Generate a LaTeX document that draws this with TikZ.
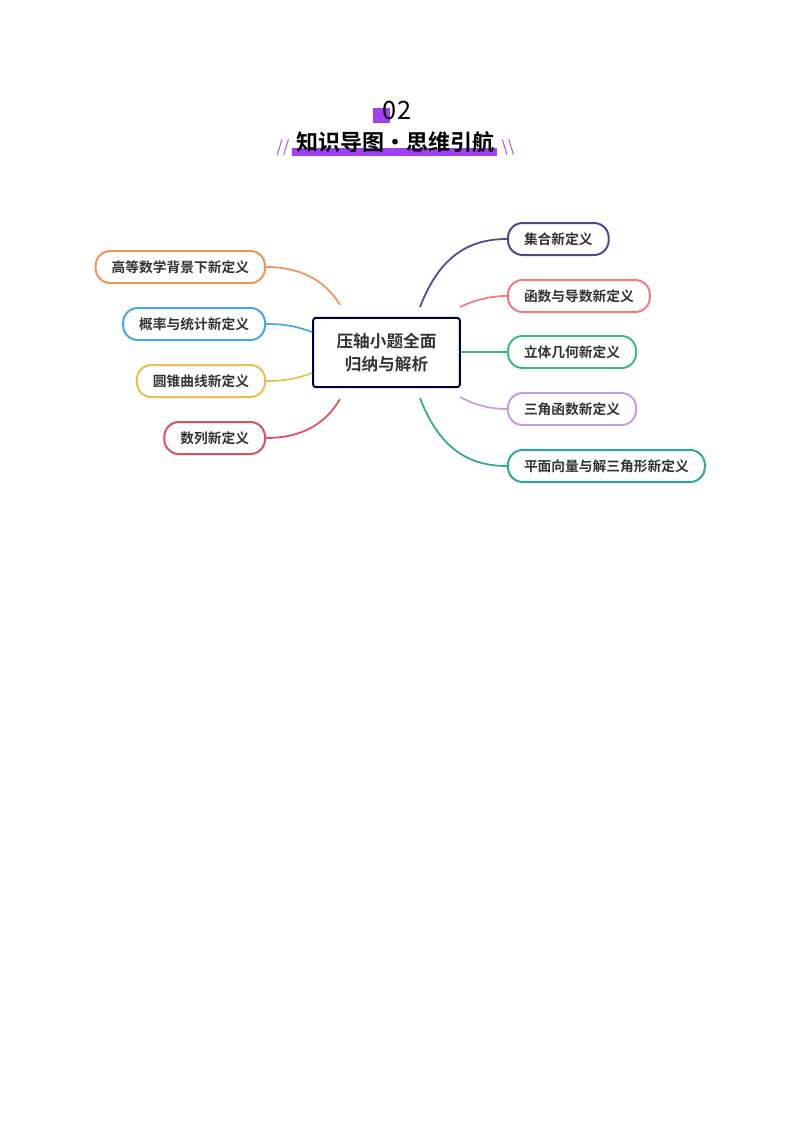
\documentclass[tikz,border=0pt]{standalone}
\usepackage{fontspec}
\setmainfont{Noto Sans CJK SC}
\newfontfamily\cjkb{Noto Sans CJK SC Bold}
\begin{document}
\begin{tikzpicture}[x=0.75pt,y=-0.75pt,
  leaf/.style={draw=#1,line width=1.5pt,rounded corners=11pt,minimum height=24pt,inner xsep=12pt,font=\cjkb\fontsize{10.3}{12}\selectfont,text=black!80,anchor=west},
  link/.style={draw=#1,line width=1.3pt}]
\useasboundingbox (0,0) rectangle (800,1132);
\definecolor{cA}{HTML}{4A4A8C}\definecolor{cB}{HTML}{F07C7C}\definecolor{cC}{HTML}{3DBB7A}
\definecolor{cD}{HTML}{C89CE0}\definecolor{cE}{HTML}{2BAB94}\definecolor{cF}{HTML}{F0945C}
\definecolor{cG}{HTML}{4AA8E0}\definecolor{cH}{HTML}{E8C050}\definecolor{cI}{HTML}{E05060}
\definecolor{pur}{HTML}{A040F0}
% title
\fill[pur] (373,108) rectangle (390,123);
\node (num) at (397,110) {\fontsize{19}{20}\selectfont 02};
\fill[pur] (292,148) rectangle (497,156);
\node (ttl) at (395,142) {\cjkb\fontsize{16.5}{18}\selectfont 知识导图·思维引航};
\node[text=pur] (sl) at (283,148) {\fontsize{12}{12}\selectfont //};
\node[text=pur] (sr) at (508,148) {\fontsize{12}{12}\selectfont \textbackslash\textbackslash};
% center
\node[draw=black!75!blue,line width=1.5pt,rounded corners=2pt,minimum width=110pt,minimum height=52pt,align=center,font=\cjkb\fontsize{12.5}{17}\selectfont,text=black!80] (c) at (386.5,352.5) {压轴小题全面\\归纳与解析};
% right
\node[leaf=cA] (r1) at (507,239) {集合新定义};
\node[leaf=cB] (r2) at (507,296) {函数与导数新定义};
\node[leaf=cC] (r3) at (507,352) {立体几何新定义};
\node[leaf=cD] (r4) at (507,409) {三角函数新定义};
\node[leaf=cE] (r5) at (507,466) {平面向量与解三角形新定义};
% left
\node[leaf=cF,anchor=east] (l1) at (266,267) {高等数学背景下新定义};
\node[leaf=cG,anchor=east] (l2) at (266,324) {概率与统计新定义};
\node[leaf=cH,anchor=east] (l3) at (266,381) {圆锥曲线新定义};
\node[leaf=cI,anchor=east] (l4) at (266,438) {数列新定义};
\coordinate (a1) at (420,307);\coordinate (a2) at (460,307);
\coordinate (a4) at (460,397);\coordinate (a5) at (420,398);
\coordinate (b1) at (340,305);\coordinate (b4) at (340,399);
\draw[link=cA] (a1) .. controls (440,255) and (470,239) .. (r1.west);
\draw[link=cB] (a2) .. controls (475,300) and (490,296) .. (r2.west);
\draw[link=cC] (c.east |- r3) -- (r3.west);
\draw[link=cD] (a4) .. controls (475,405) and (490,409) .. (r4.west);
\draw[link=cE] (a5) .. controls (440,450) and (470,466) .. (r5.west);
\draw[link=cF] (b1) .. controls (325,280) and (300,267) .. (l1.east);
\draw[link=cG] (c.west |- 0,332) .. controls (295,326) and (285,324) .. (l2.east);
\draw[link=cH] (c.west |- 0,373) .. controls (295,379) and (285,381) .. (l3.east);
\draw[link=cI] (b4) .. controls (325,425) and (300,438) .. (l4.east);
\end{tikzpicture}
\end{document}
